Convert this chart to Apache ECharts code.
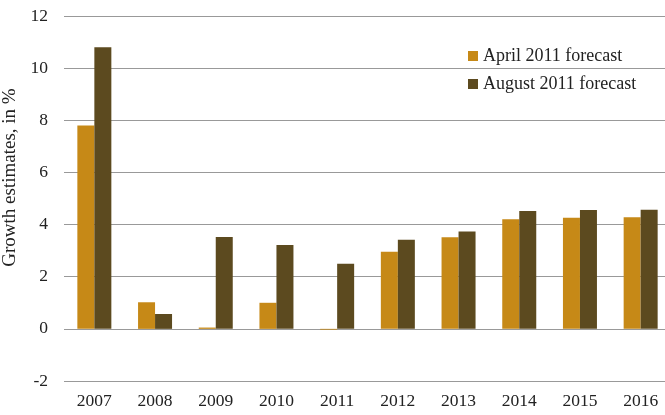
<!DOCTYPE html>
<html>
<head>
<meta charset="utf-8">
<script src="https://cdn.jsdelivr.net/npm/echarts@6/dist/echarts.min.js"></script>
<style>
  html, body { margin: 0; padding: 0; background: #fff; }
  #chart { width: 665px; height: 415px; }
</style>
</head>
<body>
<div id="chart"></div>
<script>
    var years = ['2007', '2008', '2009', '2010', '2011', '2012', '2013', '2014', '2015', '2016'];
    var april = [7.8, 1.02, 0.05, 1.0, -0.03, 2.96, 3.51, 4.2, 4.26, 4.28];
    var august = [10.8, 0.57, 3.52, 3.22, 2.5, 3.42, 3.73, 4.52, 4.56, 4.57];

    var font = 'Liberation Serif';
    var chart = echarts.init(document.getElementById('chart'));

    var option = {
        animation: false,
        textStyle: { fontFamily: font },
        legend: {
            orient: 'vertical',
            left: 463,
            top: 42,
            itemWidth: 10,
            itemHeight: 10,
            itemGap: 10,
            icon: 'rect',
            textStyle: { fontFamily: font, fontSize: 18, color: '#222' },
            data: ['April 2011 forecast', 'August 2011 forecast']
        },
        grid: {
            left: 64,
            right: -6,
            top: 16,
            bottom: 34,
            outerBoundsMode: 'none'
        },
        xAxis: {
            type: 'category',
            data: years,
            axisLine: { show: false },
            axisTick: { show: false },
            axisLabel: { fontFamily: font, fontSize: 17.5, color: '#222', margin: 11 }
        },
        yAxis: {
            type: 'value',
            min: -2,
            max: 12,
            interval: 2,
            name: 'Growth estimates, in %',
            nameLocation: 'middle',
            nameGap: 43,
            nameTextStyle: { fontFamily: font, fontSize: 19, color: '#222', padding: [0, 0, 0, 42] },
            axisLine: { show: false },
            axisTick: { show: false },
            axisLabel: { fontFamily: font, fontSize: 17.5, color: '#222', margin: 16 },
            splitLine: { lineStyle: { color: '#999', width: 1 } }
        },
        series: [
            {
                name: 'April 2011 forecast',
                type: 'bar',
                data: april,
                barWidth: 17,
                barGap: '0%',
                itemStyle: { color: '#C68917' }
            },
            {
                name: 'August 2011 forecast',
                type: 'bar',
                data: august,
                barWidth: 17,
                itemStyle: { color: '#5C4A1F' }
            }
        ]
    };

    chart.setOption(option);
</script>
</body>
</html>
